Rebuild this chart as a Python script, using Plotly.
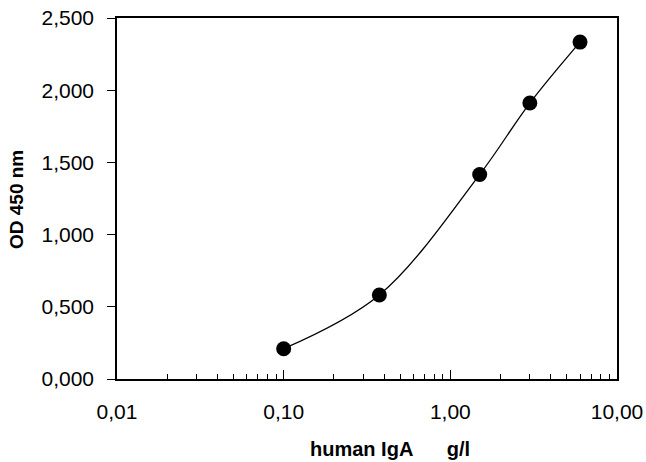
import plotly.graph_objects as go

conc = [0.1, 0.375, 1.5, 3.0, 6.0]
od = [0.21, 0.582, 1.416, 1.911, 2.333]

x_tickvals = [0.01, 0.1, 1, 10]
x_ticktext = ["0,01", "0,10", "1,00", "10,00"]
y_tickvals = [0, 0.5, 1.0, 1.5, 2.0, 2.5]
y_ticktext = ["0,000", "0,500", "1,000", "1,500", "2,000", "2,500"]

FONT = "Liberation Sans, Arial, sans-serif"
W, H = 646, 462
L, R, T, B = 117, 29, 18, 83
PW, PH = W - L - R, H - T - B


def px_x(x):
    return (x - L) / PW


def px_y(y):
    return (H - B - y) / PH


fig = go.Figure()
fig.add_trace(go.Scatter(
    x=conc, y=od, mode="lines+markers",
    line=dict(color="black", width=1.3, shape="spline"),
    marker=dict(color="black", size=15),
    showlegend=False, hoverinfo="skip",
))

fig.update_layout(
    width=W, height=H,
    margin=dict(l=L, r=R, t=T, b=B),
    paper_bgcolor="white", plot_bgcolor="white",
    font=dict(family=FONT, color="black", size=21),
    xaxis=dict(
        type="log", range=[-2, 1], automargin=False,
        tickvals=x_tickvals, ticktext=x_ticktext,
        ticks="inside", ticklen=9, tickwidth=1.2, tickcolor="black",
        minor=dict(ticks="inside", ticklen=5, tickwidth=1, tickcolor="black", dtick="D1", showgrid=False),
        showline=True, linecolor="black", linewidth=2, mirror=True,
        showgrid=False, zeroline=False,
        tickfont=dict(size=21, family=FONT),
        ticklabelstandoff=13, ticklabeloverflow="allow",
    ),
    yaxis=dict(
        range=[0, 2.5], automargin=False,
        tickvals=y_tickvals, ticktext=y_ticktext,
        ticks="outside", ticklen=8, tickwidth=1.2, tickcolor="black",
        showline=True, linecolor="black", linewidth=1.5, mirror=True,
        showgrid=False, zeroline=False,
        tickfont=dict(size=21, family=FONT),
        ticklabelstandoff=9, ticklabeloverflow="allow",
    ),
    annotations=[
        dict(text="<b>OD 450 nm</b>", xref="paper", yref="paper",
             x=px_x(16), y=px_y(200),
             xanchor="center", yanchor="middle", showarrow=False, textangle=-90,
             font=dict(size=19, family=FONT)),
        dict(text="<b>human IgA\u00a0\u00a0\u00a0\u00a0\u00a0\u00a0g/l</b>", xref="paper", yref="paper",
             x=px_x(390), y=px_y(449),
             xanchor="center", yanchor="middle", showarrow=False,
             font=dict(size=20, family=FONT)),
    ],
)

fig.write_html("out.html", config={"displayModeBar": False},
               post_script="document.body.style.margin='0px';")
